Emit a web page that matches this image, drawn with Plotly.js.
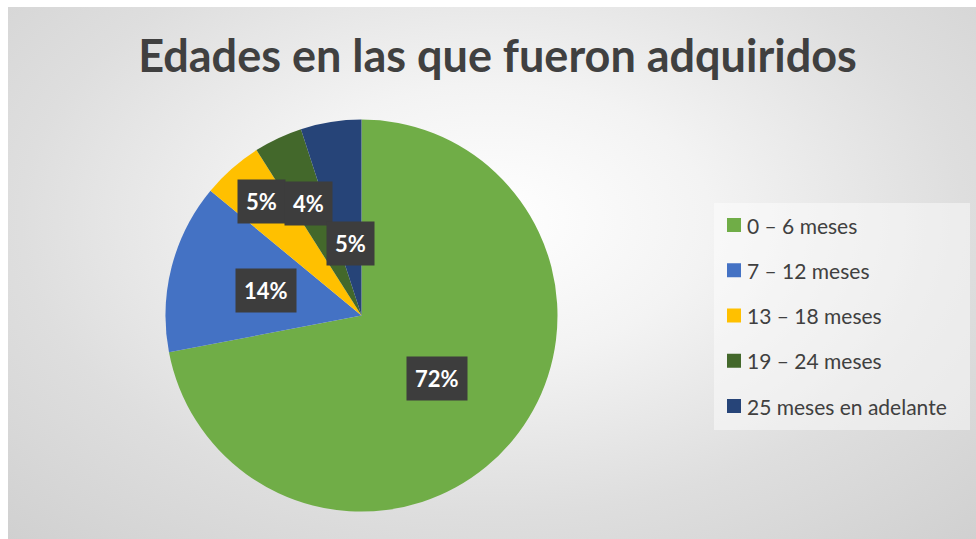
<!DOCTYPE html>
<html>
<head>
<meta charset="utf-8">
<script src="https://cdn.plot.ly/plotly-3.0.1.min.js"></script>
<style>
  html, body { margin: 0; padding: 0; background: #ffffff; }
  #wrap { position: relative; width: 976px; height: 539px; overflow: hidden; background: #ffffff; }
  #bg { position: absolute; left: 8px; top: 7px; width: 968px; height: 532px;
        background: radial-gradient(ellipse 75% 85% at 50% 40%, #ffffff 0%, #f3f3f3 30%, #dedede 65%, #cfcfcf 100%); }
  #chart { position: absolute; left: 0; top: 0; width: 976px; height: 539px; }
</style>
</head>
<body>
<div id="wrap"><div id="bg"></div><div id="chart"></div></div>
<script>
// ---- data ----
const categories = ['0 – 6 meses', '7 – 12 meses', '13 – 18 meses', '19 – 24 meses', '25 meses en adelante'];
const values = [72, 14, 5, 4, 5];
const colors = ['#70ad47', '#4472c4', '#ffc000', '#43682b', '#264478'];
const chartTitle = 'Edades en las que fueron adquiridos';

// ---- layout constants ----
const W = 976, H = 539;
const pieCx = 361.5, pieCy = 315.6, pieR = 196;
const labelRadius = [0.50, 0.505, 0.775, 0.63, 0.37];
const legendX = 727, legendY0 = 225, legendStep = 45.25, legendSq = 14;

const px = x => x / W;
const py = y => 1 - y / H;

const total = values.reduce((a, b) => a + b, 0);

const trace = {
  type: 'pie',
  labels: categories,
  values: values,
  sort: false,
  direction: 'clockwise',
  rotation: 0,
  textinfo: 'none',
  hoverinfo: 'label+percent',
  marker: { colors: colors, line: { width: 0 } },
  domain: { x: [px(pieCx - pieR), px(pieCx + pieR)], y: [py(pieCy + pieR), py(pieCy - pieR)] },
  showlegend: false
};

const annotations = [];
const shapes = [];

// data labels computed from slice mid-angles
let cum = 0;
values.forEach((v, i) => {
  const mid = (cum + v / 2) / total * 2 * Math.PI;
  cum += v;
  const dx = pieR * labelRadius[i] * Math.sin(mid);
  const dy = pieR * labelRadius[i] * Math.cos(mid);
  annotations.push({
    xref: 'paper', yref: 'paper',
    x: px(pieCx + dx), y: py(pieCy - dy),
    xanchor: 'center', yanchor: 'middle',
    text: '<b>' + Math.round(v / total * 100) + '%</b>',
    showarrow: false,
    font: { family: 'Lato, "Open Sans", sans-serif', size: 22, color: '#ffffff' },
    bgcolor: '#3d3d3d',
    borderpad: 8
  });
});

// legend box
shapes.push({
  type: 'rect', xref: 'paper', yref: 'paper',
  x0: px(714), x1: px(970), y0: py(430), y1: py(203),
  fillcolor: 'rgba(255,255,255,0.45)', line: { width: 0 }, layer: 'below'
});
categories.forEach((c, i) => {
  const yc = legendY0 + i * legendStep;
  shapes.push({
    type: 'rect', xref: 'paper', yref: 'paper',
    x0: px(legendX), x1: px(legendX + legendSq),
    y0: py(yc + legendSq / 2), y1: py(yc - legendSq / 2),
    fillcolor: colors[i], line: { width: 0 }
  });
  annotations.push({
    xref: 'paper', yref: 'paper',
    x: px(legendX + legendSq + 4), y: py(yc),
    xanchor: 'left', yanchor: 'middle',
    text: c, showarrow: false,
    font: { family: 'Lato, "Open Sans", sans-serif', size: 21, color: '#404040' }
  });
});

const layout = {
  width: W, height: H,
  margin: { l: 0, r: 0, t: 0, b: 0 },
  paper_bgcolor: 'rgba(0,0,0,0)',
  plot_bgcolor: 'rgba(0,0,0,0)',
  showlegend: false,
  title: {
    text: '<b>' + chartTitle + '</b>',
    x: px(497.5), xanchor: 'center',
    y: py(56), yanchor: 'middle',
    font: { family: 'Lato, "Open Sans", sans-serif', size: 45, color: '#404040' }
  },
  annotations: annotations,
  shapes: shapes
};

Plotly.newPlot('chart', [trace], layout, { displayModeBar: false, staticPlot: true });
</script>
</body>
</html>
